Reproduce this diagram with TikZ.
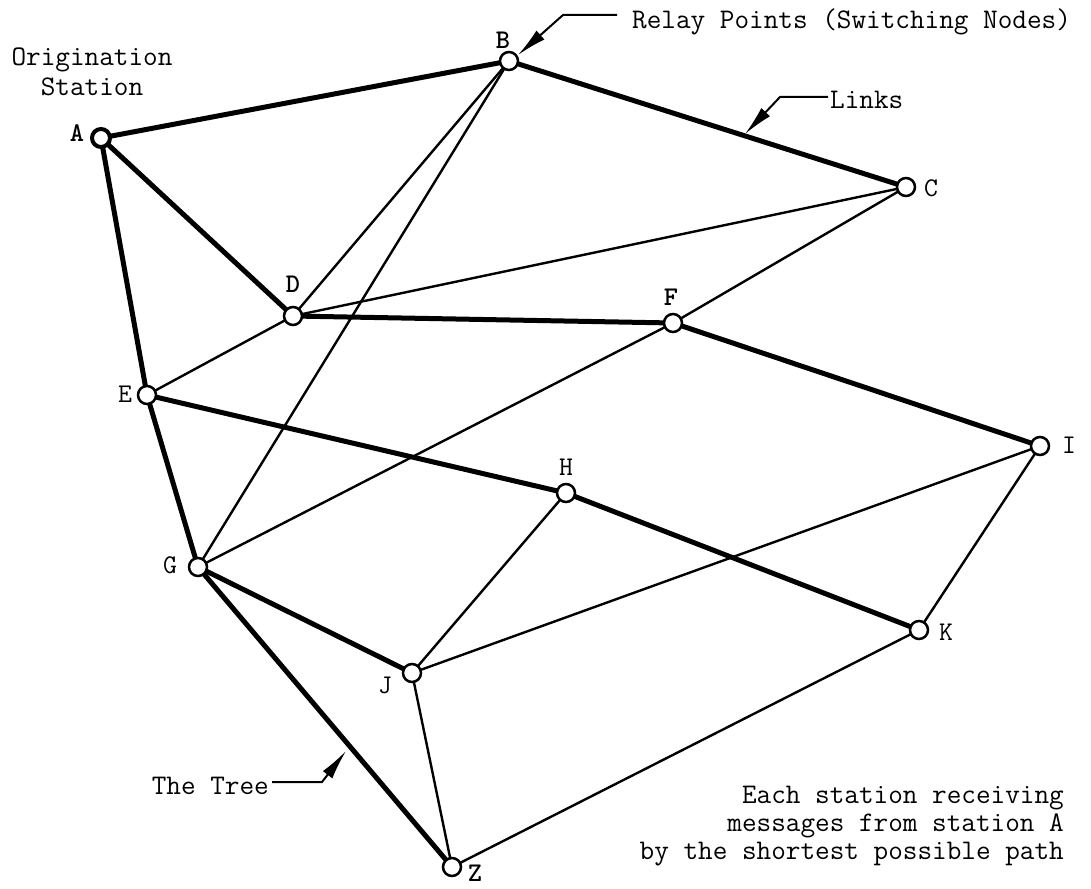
\documentclass[tikz,border=0pt]{standalone}
\usepackage{fontspec}
\usetikzlibrary{arrows.meta}
\pgfdeclarelayer{bg}
\pgfsetlayers{bg,main}
\begin{document}
\begin{tikzpicture}[x=1pt,y=-1pt,
  stn/.style={circle,draw,fill=white,line width=2.5pt,minimum size=18pt,inner sep=0pt},
  orig/.style={stn,line width=4pt,minimum size=18pt},
  tree/.style={line width=5pt},
  link/.style={line width=2.4pt},
  lbl/.style={font=\fontsize{27}{30}\selectfont\ttfamily,inner sep=0pt},
  blbl/.style={font=\fontsize{27}{30}\selectfont\ttfamily\bfseries,inner sep=0pt},
  txt/.style={font=\fontsize{28.4}{28}\selectfont\ttfamily,inner sep=0pt},
  ptr/.style={-{Latex[length=30pt,width=12pt]},line width=2pt}]
\useasboundingbox (0,0) rectangle (1091,888);
% stations
\node[orig] (A) at (101,138) {};
\node[stn] (B) at (509,61) {};
\node[stn] (C) at (906,187) {};
\node[stn] (D) at (293,316) {};
\node[stn] (F) at (673,323) {};
\node[stn] (E) at (147,395) {};
\node[stn] (I) at (1040,446) {};
\node[stn] (H) at (566,493) {};
\node[stn] (G) at (198,567) {};
\node[stn] (K) at (919,630) {};
\node[stn] (J) at (412,673) {};
\node[stn] (Z) at (452,867) {};
% labels
\node[blbl] (lA) at (77,133) {A};
\node[blbl] (lB) at (503,40) {B};
\node[lbl]  (lC) at (931,188) {C};
\node[blbl] (lD) at (293,284) {D};
\node[blbl] (lF) at (671,297) {F};
\node[lbl]  (lE) at (125,394) {E};
\node[lbl]  (lG) at (170,565) {G};
\node[lbl]  (lH) at (566,467) {H};
\node[lbl]  (lI) at (1069,445) {I};
\node[lbl]  (lK) at (946,632) {K};
\node[lbl]  (lJ) at (385,685) {J};
\node[blbl] (lZ) at (475,873) {Z};
% edges
\begin{pgfonlayer}{bg}
\draw[tree] (A.center) -- (B.center);
\draw[tree] (B.center) -- (C.center);
\draw[tree] (A.center) -- (D.center);
\draw[tree] (A.center) -- (E.center);
\draw[tree] (D.center) -- (F.center);
\draw[tree] (F.center) -- (I.center);
\draw[tree] (E.center) -- (H.center);
\draw[tree] (H.center) -- (K.center);
\draw[tree] (E.center) -- (G.center);
\draw[tree] (G.center) -- (J.center);
\draw[tree] (G.center) -- (Z.center);
\draw[link] (B.center) -- (D.center);
\draw[link] (B.center) -- (G.center);
\draw[link] (D.center) -- (C.center);
\draw[link] (D.center) -- (E.center);
\draw[link] (C.center) -- (F.center);
\draw[link] (F.center) -- (G.center);
\draw[link] (H.center) -- (J.center);
\draw[link] (J.center) -- (I.center);
\draw[link] (I.center) -- (K.center);
\draw[link] (J.center) -- (Z.center);
\draw[link] (Z.center) -- (K.center);
\end{pgfonlayer}
% texts
\node[txt,align=center,font=\fontsize{28.4}{30}\selectfont\ttfamily] (os) at (92,72) {Origination\\Station};
\node[txt,anchor=west] (rp) at (632,22) {Relay Points (Switching Nodes)};
\node[txt,anchor=west] (lk) at (830,100) {Links};
\node[txt,anchor=east] (tt) at (269,786) {The Tree};
\node[txt,anchor=east,align=right] (note) at (1064,826) {Each station receiving\\messages from station A\\by the shortest possible path};
% pointers
\coordinate (rp0) at (617,15);
\coordinate (rp1) at (563,15);
\coordinate (rpt) at (518,55);
\draw[ptr] (rp0) -- (rp1) -- (rpt);
\coordinate (lk0) at (828,97);
\coordinate (lk1) at (780,97);
\coordinate (lkt) at (745,134);
\draw[ptr] (lk0) -- (lk1) -- (lkt);
\coordinate (tt0) at (272,782);
\coordinate (tt1) at (322,782);
\coordinate (ttt) at (346,751);
\draw[ptr] (tt0) -- (tt1) -- (ttt);
\end{tikzpicture}
\end{document}
